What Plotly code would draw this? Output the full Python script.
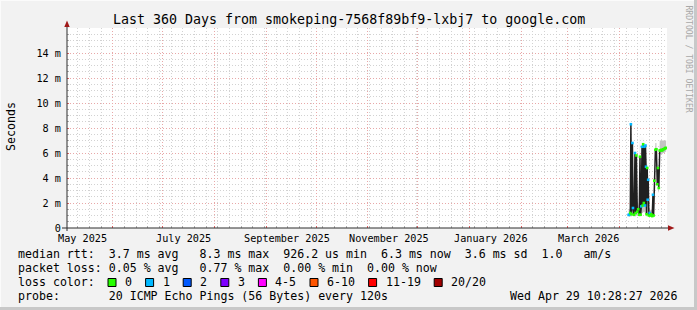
import plotly.graph_objects as go
import pandas as pd

# ---------------- data ----------------
start_time = "2025-05-04 10:28:27"
end_time = "2026-04-29 10:28:27"

times = [
    "2026-04-06 09:30", "2026-04-06 19:30", "2026-04-07 10:00", "2026-04-07 18:30",
    "2026-04-08 03:30", "2026-04-08 16:30", "2026-04-09 00:30", "2026-04-09 15:30",
    "2026-04-10 05:30", "2026-04-10 15:30", "2026-04-11 01:30", "2026-04-11 14:30",
    "2026-04-12 03:30", "2026-04-12 18:30", "2026-04-13 05:30", "2026-04-13 14:30",
    "2026-04-14 00:30", "2026-04-14 10:30", "2026-04-14 19:30", "2026-04-15 03:30",
    "2026-04-15 12:30", "2026-04-15 21:30", "2026-04-16 05:30", "2026-04-16 12:30",
    "2026-04-16 20:30", "2026-04-17 04:30", "2026-04-17 13:30", "2026-04-17 20:30",
    "2026-04-18 03:30", "2026-04-18 13:30", "2026-04-19 01:30", "2026-04-19 12:30",
    "2026-04-20 00:30", "2026-04-20 13:30", "2026-04-21 00:30", "2026-04-21 09:30",
    "2026-04-21 19:30", "2026-04-22 11:30", "2026-04-23 01:30", "2026-04-23 14:30",
    "2026-04-24 00:30", "2026-04-24 12:30", "2026-04-25 01:30", "2026-04-25 12:30",
    "2026-04-26 00:30", "2026-04-26 13:30", "2026-04-27 00:30", "2026-04-27 12:30",
    "2026-04-27 23:30", "2026-04-28 11:30", "2026-04-28 22:30",
]
median_ms = [
    1.05, 1.06, 1.2, 8.3,
    1.1, 6.8, 1.6, 1.06,
    6.0, 1.2, 5.8, 1.3,
    1.5, 1.06, 5.7, 1.06,
    1.73, 6.5, 1.8, 6.7,
    2.0, 6.5, 1.8, 6.6,
    4.9, 1.1, 4.8, 2.26,
    3.86, 1.0, 1.2, 1.0,
    1.1, 0.95, 2.66, 1.0,
    3.78, 6.26, 6.3, 3.5,
    4.8, 3.2, 6.2, 6.2,
    6.25, 6.2, 6.3, 6.3,
    6.35, 6.4, 6.4,
]
loss_pings = [
    1, 1, 0, 1,
    0, 1, 1, 0,
    1, 0, 0, 0,
    0, 0, 0, 0,
    1, 1, 0, 0,
    0, 1, 1, 1,
    1, 0, 0, 1,
    1, 0, 1, 0,
    0, 0, 1, 0,
    0, 0, 0, 0,
    0, 0, 0, 0,
    0, 0, 0, 0,
    0, 0, 0,
]
smoke_lo_ms = [
    0.9, 0.9, 0.9, 1.0,
    0.9, 1.0, 1.0, 0.9,
    1.0, 0.9, 1.0, 1.0,
    1.0, 0.9, 1.0, 0.9,
    1.2, 1.2, 1.2, 1.3,
    1.3, 1.3, 1.2, 1.2,
    1.1, 0.9, 1.0, 1.0,
    1.0, 0.9, 0.9, 0.9,
    0.9, 0.9, 0.9, 0.9,
    2.6, 5.9, 5.9, 3.0,
    3.0, 2.8, 5.9, 5.9,
    5.9, 5.9, 6.0, 6.0,
    6.0, 6.1, 6.1,
]
smoke_hi_ms = [
    1.4, 1.5, 1.6, 8.8,
    1.6, 7.3, 2.0, 1.5,
    6.5, 1.6, 6.2, 1.8,
    2.0, 1.5, 7.7, 1.6,
    2.2, 7.6, 2.4, 7.4,
    2.6, 7.2, 2.2, 7.0,
    5.4, 1.5, 5.2, 2.6,
    4.3, 1.4, 1.6, 1.4,
    1.5, 1.4, 3.0, 1.4,
    4.2, 6.8, 6.8, 4.0,
    5.2, 3.6, 7.0, 7.0,
    7.05, 7.0, 7.05, 7.0,
    7.0, 7.05, 7.0,
]

loss_labels = ["0", "1", "2", "3", "4-5", "6-10", "11-19", "20/20"]
loss_upper = [0, 1, 2, 3, 5, 10, 19, 20]
loss_colors = ["#26ff00", "#00b8ff", "#0059ff", "#7e00ff", "#ff00ff", "#ff5500", "#ff0000", "#a10000"]

label_months = ["2025-05-01", "2025-07-01", "2025-09-01", "2025-11-01", "2026-01-01", "2026-03-01"]
label_texts = ["May 2025", "July 2025", "September 2025", "November 2025", "January 2026", "March 2026"]

y_major = [0, 2, 4, 6, 8, 10, 12, 14]
y_major_text = ["0", "2 m", "4 m", "6 m", "8 m", "10 m", "12 m", "14 m"]

title_text = "Last 360 Days from smokeping-7568f89bf9-lxbj7 to google.com"
row_rtt = "median rtt:  3.7 ms avg   8.3 ms max  926.2 us min  6.3 ms now  3.6 ms sd  1.0   am/s"
row_loss = "packet loss: 0.05 % avg   0.77 % max  0.00 % min  0.00 % now"
row_color = "loss color:"
row_probe = "probe:       20 ICMP Echo Pings (56 Bytes) every 120s"
stamp_text = "Wed Apr 29 10:28:27 2026"
watermark = "RRDTOOL / TOBI OETIKER"

# ---------------- layout constants ----------------
W, H = 697, 310
L, R, T, B = 67, 667, 28, 228
MONO = "DejaVu Sans Mono"
AX_FONT = 10.2
LEG_FONT = 11.6
TITLE_FONT = 13.3
CHAR_W = 7.0
MAJOR_GRID = "#e8a8a8"
MINOR_GRID = "#d2d2d2"
DOT = "1px,2px"


def px_x(px):
    return (px - L) / (R - L)


def px_y(py):
    return (B - py) / (B - T)


def color_for_loss(n):
    for up, c in zip(loss_upper, loss_colors):
        if n <= up:
            return c
    return loss_colors[-1]


t = pd.to_datetime(times)
marker_colors = [color_for_loss(n) for n in loss_pings]

fig = go.Figure()
# smoke
fig.add_trace(go.Scatter(x=t, y=smoke_lo_ms, mode="lines", line=dict(width=0, color="#c4c4c4"),
                         hoverinfo="skip", showlegend=False))
fig.add_trace(go.Scatter(x=t, y=smoke_hi_ms, mode="lines", line=dict(width=0, color="#c4c4c4"),
                         fill="tonexty", fillcolor="#c4c4c4", hoverinfo="skip", showlegend=False))
# median line
fig.add_trace(go.Scatter(x=t, y=median_ms, mode="lines", line=dict(width=1.5, color="#202020"),
                         showlegend=False))
# loss-coloured median marks
fig.add_trace(go.Scatter(x=t, y=median_ms, mode="markers",
                         marker=dict(symbol="square", size=2.6, color=marker_colors, line=dict(width=0)),
                         showlegend=False))

month_starts = pd.date_range("2025-06-01", "2026-04-01", freq="MS")
sundays = [d for d in pd.date_range("2025-05-05", "2026-04-29", freq="W-SUN") if d.day != 1]
y_minor = [k * 0.5 for k in range(1, 33) if (k * 0.5) not in y_major]

fig.update_xaxes(
    type="date", range=[start_time, end_time], fixedrange=True,
    tickmode="array", tickvals=month_starts, showticklabels=False,
    showgrid=True, gridcolor=MAJOR_GRID, griddash=DOT, gridwidth=1,
    ticks="inside", ticklen=2, tickcolor="#e06060", tickwidth=1,
    zeroline=False, showline=False,
    minor=dict(tickmode="array", tickvals=sundays, showgrid=True, gridcolor=MINOR_GRID,
               griddash=DOT, gridwidth=1, ticks="inside", ticklen=2, tickcolor="#b0b0b0"),
)
fig.update_yaxes(
    range=[0, 16], fixedrange=True,
    tickmode="array", tickvals=y_major, ticktext=y_major_text,
    tickfont=dict(family=MONO, size=AX_FONT, color="#000000"),
    showgrid=True, gridcolor=MAJOR_GRID, griddash=DOT, gridwidth=1,
    ticks="inside", ticklen=2, tickcolor="#e06060", ticklabelstandoff=5,
    zeroline=False, showline=False,
    minor=dict(tickmode="array", tickvals=y_minor, showgrid=True, gridcolor=MINOR_GRID,
               griddash=DOT, gridwidth=1, ticks="inside", ticklen=2, tickcolor="#b0b0b0"),
)

shapes = []
# frame shading
shapes.append(dict(type="rect", xref="paper", yref="paper", x0=px_x(0), x1=px_x(W), y0=px_y(0), y1=px_y(1),
                   fillcolor="#fbfbfb", line=dict(width=0), layer="below"))
shapes.append(dict(type="rect", xref="paper", yref="paper", x0=px_x(0), x1=px_x(1), y0=px_y(H), y1=px_y(0),
                   fillcolor="#fbfbfb", line=dict(width=0), layer="below"))
shapes.append(dict(type="rect", xref="paper", yref="paper", x0=px_x(W - 3), x1=px_x(W), y0=px_y(H), y1=px_y(0),
                   fillcolor="#c8c8c8", line=dict(width=0), layer="below"))
shapes.append(dict(type="rect", xref="paper", yref="paper", x0=px_x(0), x1=px_x(W), y0=px_y(H), y1=px_y(H - 3),
                   fillcolor="#c8c8c8", line=dict(width=0), layer="below"))
# axis lines
AXIS_C = "#2c2c2c"
shapes.append(dict(type="line", xref="paper", yref="paper", x0=px_x(62), x1=px_x(669), y0=0, y1=0,
                   line=dict(color=AXIS_C, width=1)))
shapes.append(dict(type="line", xref="paper", yref="paper", x0=0, x1=0, y0=px_y(231), y1=px_y(25),
                   line=dict(color=AXIS_C, width=1)))
# arrows
ARROW_C = "#a01818"
shapes.append(dict(type="path", xref="paper", yref="paper",
                   path=f"M {px_x(668)},{px_y(225.3)} L {px_x(674.5)},{px_y(228)} L {px_x(668)},{px_y(230.7)} Z",
                   fillcolor=ARROW_C, line=dict(width=0)))
shapes.append(dict(type="path", xref="paper", yref="paper",
                   path=f"M {px_x(64.3)},{px_y(27)} L {px_x(67)},{px_y(20.5)} L {px_x(69.7)},{px_y(27)} Z",
                   fillcolor=ARROW_C, line=dict(width=0)))

annotations = []


def text_at(px, py, s, size=LEG_FONT, xanchor="left", color="#000000", angle=0):
    annotations.append(dict(xref="paper", yref="paper", x=px_x(px), y=px_y(py), text=s, showarrow=False,
                            xanchor=xanchor, yanchor="middle", textangle=angle,
                            font=dict(family=MONO, size=size, color=color)))


text_at(348.5, 19, title_text, size=TITLE_FONT, xanchor="center")
text_at(11, 127, "Seconds", xanchor="center", angle=-90)
text_at(688.5, 59, watermark, size=8.1, xanchor="center", color="#a8a8a8", angle=90)

# x-axis labels placed through the date axis
for m, s in zip(label_months, label_texts):
    pos = pd.Timestamp(m) + pd.Timedelta(days=12.6)
    annotations.append(dict(xref="x", yref="paper", x=pos, y=0, yshift=-10.5, text=s, showarrow=False,
                            xanchor="center", yanchor="middle",
                            font=dict(family=MONO, size=AX_FONT, color="#000000")))

LX = 16
text_at(LX, 254, row_rtt.replace(" ", "\u00a0"))
text_at(LX, 268, row_loss.replace(" ", "\u00a0"))
text_at(LX, 282, row_color)
text_at(LX, 296, row_probe.replace(" ", "\u00a0"))
text_at(680, 296, stamp_text.replace(" ", "\u00a0"), xanchor="right")

# loss colour boxes
bx = 108.0
for lab, col in zip(loss_labels, loss_colors):
    shapes.append(dict(type="rect", xref="paper", yref="paper", x0=px_x(bx), x1=px_x(bx + 8),
                       y0=px_y(286.5), y1=px_y(278.5), fillcolor=col, line=dict(color="#000000", width=1)))
    lx = bx + 15
    text_at(lx, 282, lab)
    bx = lx + len(lab) * CHAR_W + 15.6

fig.update_layout(
    width=W, height=H,
    margin=dict(l=L, r=W - R, t=T, b=H - B, pad=0),
    paper_bgcolor="#f2f2f2", plot_bgcolor="#ffffff",
    showlegend=False, shapes=shapes, annotations=annotations,
    font=dict(family=MONO, size=LEG_FONT, color="#000000"),
)

fig.write_html("out.html", config={"displayModeBar": False})
